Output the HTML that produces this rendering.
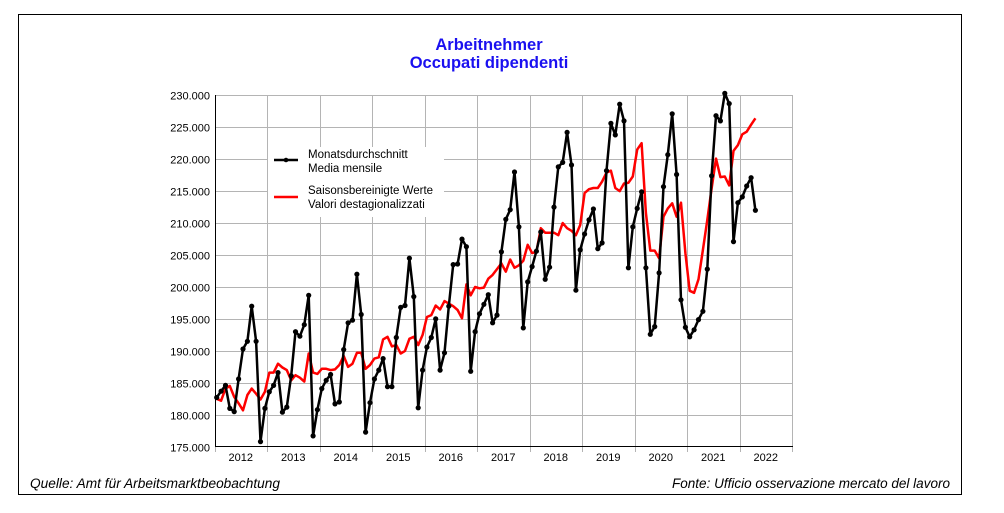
<!DOCTYPE html>
<html><head><meta charset="utf-8"><style>
html,body{margin:0;padding:0;background:#fff;}
svg{display:block;font-family:"Liberation Sans",Arial,sans-serif;}
</style></head><body>
<svg id="c" width="1004" height="513" viewBox="0 0 1004 513" xmlns="http://www.w3.org/2000/svg">
<rect x="18.5" y="14.5" width="943" height="480" fill="#fff" stroke="#000" stroke-width="1"/>
<text x="489" y="50" text-anchor="middle" fill="#1a10f0" font-size="16.5" font-weight="bold">Arbeitnehmer</text>
<text x="489" y="68" text-anchor="middle" fill="#1a10f0" font-size="16.5" font-weight="bold">Occupati dipendenti</text>
<g id="grid" stroke="#b4b4b4" stroke-width="1"></g>
<g id="ylab" font-size="11" fill="#000" text-anchor="end"></g>
<g id="xlab" font-size="11" fill="#000" text-anchor="middle"></g>
<line x1="215.5" y1="95" x2="215.5" y2="447" stroke="#000"/>
<line x1="215" y1="446.5" x2="793" y2="446.5" stroke="#000"/>
<polyline id="red" fill="none" stroke="#f00" stroke-width="2.5" stroke-linejoin="round"/>
<polyline id="blk" fill="none" stroke="#000" stroke-width="2.5" stroke-linejoin="round"/>
<g id="dots" fill="#000"></g>
<rect x="268" y="147" width="176" height="70" fill="#fff"/>
<line x1="274" y1="160" x2="298" y2="160" stroke="#000" stroke-width="2.5"/>
<circle cx="286" cy="160" r="2.3" fill="#000"/>
<text x="308" y="158" font-size="11.5">Monatsdurchschnitt</text>
<text x="308" y="172" font-size="11.5">Media mensile</text>
<line x1="274" y1="197" x2="298" y2="197" stroke="#f00" stroke-width="2.5"/>
<text x="308" y="194" font-size="11.5">Saisonsbereinigte Werte</text>
<text x="308" y="208" font-size="11.5">Valori destagionalizzati</text>
<text x="30" y="488" font-size="13.5" font-style="italic" textLength="250" lengthAdjust="spacingAndGlyphs">Quelle: Amt für Arbeitsmarktbeobachtung</text>
<text x="950" y="488" font-size="13.5" font-style="italic" text-anchor="end" textLength="278" lengthAdjust="spacingAndGlyphs">Fonte: Ufficio osservazione mercato del lavoro</text>
</svg>
<script>
var NS="http://www.w3.org/2000/svg";
function el(t,a,p,txt){var e=document.createElementNS(NS,t);for(var k in a)e.setAttribute(k,a[k]);if(txt)e.textContent=txt;document.getElementById(p).appendChild(e);return e;}
function Y(v){return 95.3+(230-v)*6.39;}
for(var i=0;i<=11;i++){var v=230-5*i,y=Math.round(Y(v))+0.5;
 if(i<11)el("line",{x1:215,y1:y,x2:793,y2:y},"grid");
 el("text",{x:210,y:y+4},"ylab",v+".000");}
for(var j=1;j<=11;j++){var x=Math.round(214.8+52.5*j)+0.5;el("line",{x1:x,y1:95,x2:x,y2:452},"grid");}
el("line",{x1:215.5,y1:446,x2:215.5,y2:452},"grid");
for(var j=0;j<11;j++){el("text",{x:214.8+52.5*j+26,y:461},"xlab",""+(2012+j));}
var b=[182.7,183.7,184.6,181.0,180.5,185.6,190.3,191.5,197.0,191.5,175.8,181.0,
183.6,184.6,186.6,180.4,181.2,186.1,193.0,192.3,194.1,198.7,176.7,180.8,
184.1,185.4,186.3,181.7,182.0,190.2,194.4,194.8,202.0,195.7,177.3,181.9,
185.6,187.0,188.8,184.4,184.4,192.1,196.8,197.1,204.5,198.5,181.1,187.0,
190.6,192.1,195.0,187.0,189.7,197.0,203.5,203.6,207.5,206.3,186.8,193.0,
195.8,197.3,198.8,194.4,195.6,205.5,210.6,212.1,218.0,209.4,193.6,200.8,
203.2,205.6,208.6,201.2,203.1,212.5,218.8,219.5,224.2,219.1,199.5,205.8,
208.3,210.5,212.2,206.0,206.9,218.2,225.6,223.8,228.6,226.0,203.0,209.4,
212.3,214.9,203.0,192.6,193.8,202.2,215.7,220.7,227.1,217.6,198.0,193.7,
192.2,193.3,194.9,196.2,202.8,217.4,226.8,226.0,230.3,228.7,207.1,213.2,
214.1,215.8,217.1,212.0];
var r=[182.5,182.2,184.1,184.5,182.8,181.8,180.7,183.1,184.1,183.3,182.4,183.6,
186.6,186.6,188.0,187.4,187.0,185.4,186.2,185.8,185.2,189.6,186.6,186.4,
187.2,187.2,187.0,187.1,187.8,189.2,187.5,188.0,189.7,189.7,187.2,187.8,
188.8,189.0,191.8,192.2,190.7,190.9,189.6,190.0,191.9,192.2,190.9,192.5,
195.3,195.6,197.1,196.5,197.8,197.4,197.0,196.4,195.1,200.4,198.7,200.0,
199.8,199.9,201.3,201.9,202.8,203.7,202.4,204.3,203.0,203.4,204.1,206.6,
205.3,205.5,209.2,208.5,208.5,208.5,208.1,210.0,209.2,208.8,208.1,209.7,
214.7,215.3,215.5,215.5,216.5,217.9,218.2,215.5,215.0,216.2,216.3,217.3,
221.5,222.5,211.6,205.7,205.7,204.5,211.0,212.3,213.1,211.0,213.2,205.3,
199.4,199.1,201.2,205.8,210.5,215.4,220.1,217.2,217.3,215.9,221.3,222.2,
223.9,224.3,225.4,226.4];
function X(i){return 216.7+i*4.38;}
document.getElementById("blk").setAttribute("points",b.map(function(v,i){return X(i).toFixed(1)+","+Y(v).toFixed(1)}).join(" "));
document.getElementById("red").setAttribute("points",r.map(function(v,i){return X(i).toFixed(1)+","+Y(v).toFixed(1)}).join(" "));
b.forEach(function(v,i){el("circle",{cx:X(i).toFixed(1),cy:Y(v).toFixed(1),r:2.6},"dots");});
</script>
</body></html>
